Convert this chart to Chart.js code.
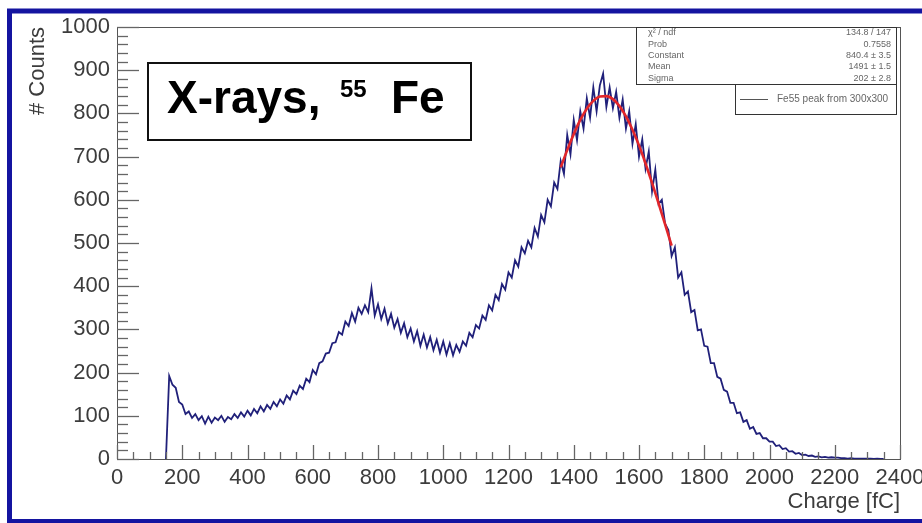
<!DOCTYPE html>
<html>
<head>
<meta charset="utf-8">
<script src="https://cdn.jsdelivr.net/npm/chart.js@4/dist/chart.umd.min.js"></script>
<style>
  html, body { margin: 0; padding: 0; background: #fff; }
  #wrap { width: 922px; height: 523px; position: relative; }
</style>
</head>
<body>
<div id="wrap"><canvas id="c" width="922" height="523"></canvas></div>
<script>
// ---- data ----
const charge = [150,160,170,180,190,200,210,220,230,240,250,260,270,280,290,300,310,320,330,340,350,360,370,380,390,400,410,420,430,440,450,460,470,480,490,500,510,520,530,540,550,560,570,580,590,600,610,620,630,640,650,660,670,680,690,700,710,720,730,740,750,760,770,780,790,800,810,820,830,840,850,860,870,880,890,900,910,920,930,940,950,960,970,980,990,1000,1010,1020,1030,1040,1050,1060,1070,1080,1090,1100,1110,1120,1130,1140,1150,1160,1170,1180,1190,1200,1210,1220,1230,1240,1250,1260,1270,1280,1290,1300,1310,1320,1330,1340,1350,1360,1370,1380,1390,1400,1410,1420,1430,1440,1450,1460,1470,1480,1490,1500,1510,1520,1530,1540,1550,1560,1570,1580,1590,1600,1610,1620,1630,1640,1650,1660,1670,1680,1690,1700,1710,1720,1730,1740,1750,1760,1770,1780,1790,1800,1810,1820,1830,1840,1850,1860,1870,1880,1890,1900,1910,1920,1930,1940,1950,1960,1970,1980,1990,2000,2010,2020,2030,2040,2050,2060,2070,2080,2090,2100,2110,2120,2130,2140,2150,2160,2170,2180,2190,2200,2210,2220,2230,2240,2250,2260,2270,2280,2290,2300,2310,2320,2330,2340,2350];
const counts = [0,
  192,172,165,132,
  126,104,110,95,104,90,99,82,98,84,
  96,90,100,86,97,92,104,95,108,98,
  112,101,116,106,122,110,125,116,132,122,
  138,128,147,138,158,150,170,162,186,178,
  206,196,222,226,244,246,268,270,294,288,
  318,308,338,318,350,336,356,340,395,332,
  358,324,348,314,336,304,324,292,314,282,
  302,272,296,262,288,258,282,252,276,246,
  272,242,268,240,264,248,272,262,292,282,
  310,302,332,322,356,344,380,368,405,392,
  432,420,460,445,490,476,505,490,535,515,
  565,548,600,585,640,625,690,660,750,705,
  785,738,805,765,835,790,860,805,865,892,
  815,860,812,850,790,832,765,805,730,775,
  700,740,672,712,620,670,590,600,545,530,
  470,490,420,432,380,388,340,345,298,300,
  262,260,222,222,190,186,160,156,130,130,
  106,108,86,90,70,74,58,60,48,48,
  40,40,30,32,23,25,17,18,12,14,
  9,10,7,8,5,6,4,5,3,4,
  3,3,2,2,1,2,1,1,1,1,
  1,1,0,1,0,
  0];
const fitCharge = [1360,1380,1400,1420,1440,1460,1480,1500,1520,1540,1560,1580,1600,1620,1640,1660,1680,1700];
const fitCounts = [675,715,752,785,811,829,839,840,833,817,793,762,726,684,639,592,543,494];
const xTicks = [0,200,400,600,800,1000,1200,1400,1600,1800,2000,2200,2400];
const yTicks = [0,100,200,300,400,500,600,700,800,900,1000];
const statsLabels = ["\u03C7\u00B2 / ndf", "Prob", "Constant", "Mean", "Sigma"];
const statsValues = ["134.8 / 147", "0.7558", "840.4 \u00B1 3.5", "1491 \u00B1 1.5", "202 \u00B1 2.8"];
const legendLabel = "Fe55 peak from 300x300";
const xTitle = "Charge [fC]";
const yTitle = "# Counts";

const FONT = "'Liberation Sans', Arial, Helvetica, sans-serif";

const histData = charge.map((c, i) => ({ x: c, y: counts[i] }));
const fitData = fitCharge.map((c, i) => ({ x: c, y: fitCounts[i] }));

const decor = {
  id: 'decor',
  beforeDraw(chart) {
    const ctx = chart.ctx;
    ctx.save();
    ctx.fillStyle = '#ffffff';
    ctx.fillRect(0, 0, chart.width, chart.height);
    ctx.strokeStyle = '#1414a0';
    ctx.lineWidth = 5;
    ctx.strokeRect(9.5, 11, 1000, 510.5);
    ctx.restore();
  },
  afterDraw(chart) {
    const ctx = chart.ctx;
    const a = chart.chartArea;
    const xs = chart.scales.x, ys = chart.scales.y;
    ctx.save();
    // frame
    ctx.strokeStyle = '#555';
    ctx.lineWidth = 1;
    ctx.strokeRect(Math.round(a.left) + 0.5, Math.round(a.top) + 0.5, Math.round(a.right - a.left), Math.round(a.bottom - a.top));
    // inside ticks
    ctx.strokeStyle = '#666';
    ctx.lineWidth = 1.3;
    for (let v = 0; v <= 1000; v += 20) {
      const y = Math.round(ys.getPixelForValue(v)) + 0.5;
      const len = (v % 100 === 0) ? 22 : 11;
      ctx.beginPath(); ctx.moveTo(a.left, y); ctx.lineTo(a.left + len, y); ctx.stroke();
    }
    for (let v = 0; v <= 2400; v += 50) {
      const x = Math.round(xs.getPixelForValue(v)) + 0.5;
      const len = (v % 200 === 0) ? 14 : 7;
      ctx.beginPath(); ctx.moveTo(x, a.bottom); ctx.lineTo(x, a.bottom - len); ctx.stroke();
    }
    // stats box
    ctx.fillStyle = '#fff';
    ctx.fillRect(636, 27, 260, 57);
    ctx.strokeStyle = '#333';
    ctx.lineWidth = 1;
    ctx.strokeRect(636.5, 27.5, 260, 57);
    ctx.fillStyle = '#666';
    ctx.font = '9px ' + FONT;
    ctx.textBaseline = 'middle';
    for (let i = 0; i < statsLabels.length; i++) {
      const y = 33 + i * 11.3;
      ctx.textAlign = 'left';
      ctx.fillText(statsLabels[i], 648, y);
      ctx.textAlign = 'right';
      ctx.fillText(statsValues[i], 891, y);
    }
    // legend box
    ctx.fillStyle = '#fff';
    ctx.fillRect(735, 84, 161, 30);
    ctx.strokeStyle = '#333';
    ctx.strokeRect(735.5, 84.5, 161, 30);
    ctx.strokeStyle = '#555';
    ctx.lineWidth = 1;
    ctx.beginPath(); ctx.moveTo(740, 99.5); ctx.lineTo(768, 99.5); ctx.stroke();
    ctx.fillStyle = '#666';
    ctx.font = '10px ' + FONT;
    ctx.textAlign = 'left';
    ctx.fillText(legendLabel, 777, 99);
    // title box
    ctx.fillStyle = '#fff';
    ctx.fillRect(147, 62, 325, 79);
    ctx.strokeStyle = '#111';
    ctx.lineWidth = 2;
    ctx.strokeRect(148, 63, 323, 77);
    ctx.fillStyle = '#000';
    ctx.textBaseline = 'alphabetic';
    ctx.textAlign = 'left';
    ctx.font = 'bold 46px ' + FONT;
    ctx.fillText('X-rays,', 167, 113);
    ctx.font = 'bold 24px ' + FONT;
    ctx.fillText('55', 340, 97);
    ctx.font = 'bold 46px ' + FONT;
    ctx.fillText('Fe', 391, 113);
    ctx.restore();
  }
};

new Chart(document.getElementById('c'), {
  type: 'line',
  data: {
    datasets: [
      {
        label: 'fit',
        data: fitData,
        borderColor: '#e2262a',
        borderWidth: 2.6,
        pointRadius: 0,
        cubicInterpolationMode: 'monotone',
        fill: false,
        order: 0
      },
      {
        label: legendLabel,
        data: histData,
        borderColor: '#20207a',
        borderWidth: 1.8,
        pointRadius: 0,
        tension: 0,
        fill: false,
        order: 1
      }
    ]
  },
  options: {
    responsive: false,
    animation: false,
    devicePixelRatio: 1,
    layout: { padding: { left: 0, right: 22, top: 27, bottom: 0 } },
    plugins: { legend: { display: false }, tooltip: { enabled: false }, title: { display: false } },
    scales: {
      x: {
        type: 'linear',
        min: 0, max: 2400,
        afterBuildTicks: (s) => { s.ticks = xTicks.map(v => ({ value: v })); },
        afterFit: (s) => { s.height = 64; s.paddingLeft = 0; s.paddingRight = 0; },
        grid: { display: false, drawTicks: false },
        border: { display: false },
        ticks: { padding: 6, color: '#3c3c3c', font: { family: FONT, size: 22 }, maxRotation: 0, autoSkip: false, callback: (v) => String(v) },
        title: { display: true, text: xTitle, align: 'end', color: '#3c3c3c', font: { family: FONT, size: 22 }, padding: { top: 0, bottom: 8 } }
      },
      y: {
        type: 'linear',
        min: 0, max: 1000,
        afterBuildTicks: (s) => { s.ticks = yTicks.map(v => ({ value: v })); },
        afterFit: (s) => { s.width = 117; s.paddingTop = 0; s.paddingBottom = 0; },
        grid: { display: false, drawTicks: false },
        border: { display: false },
        ticks: { padding: 7, color: '#3c3c3c', font: { family: FONT, size: 22 }, autoSkip: false, callback: (v) => String(v) },
        title: { display: true, text: yTitle, align: 'end', color: '#3c3c3c', font: { family: FONT, size: 22 }, padding: { top: 25, bottom: 0 } }
      }
    }
  },
  plugins: [decor]
});
</script>
</body>
</html>
